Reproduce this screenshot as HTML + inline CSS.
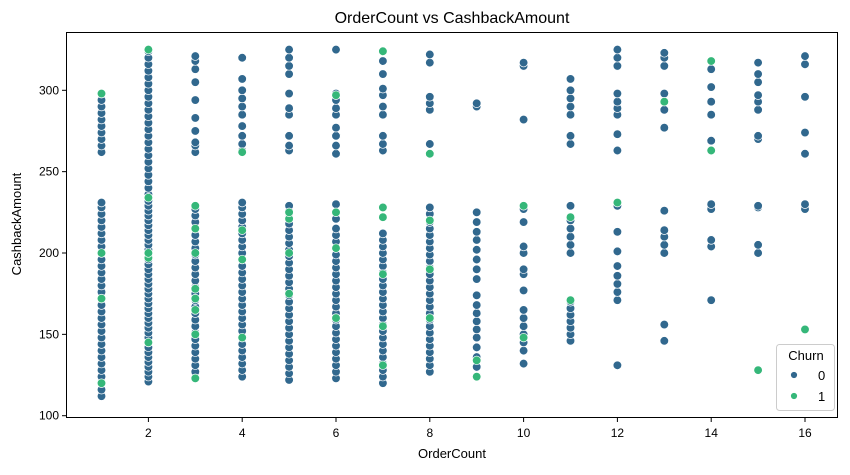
<!DOCTYPE html>
<html><head><meta charset="utf-8"><style>
body{margin:0;background:#fff;font-family:"Liberation Sans",sans-serif}
svg text{font-family:"Liberation Sans",sans-serif;fill:#000}
</style></head><body>
<svg id="chart" width="850" height="470">
<rect width="850" height="470" fill="#fff"/>
<text x="452" y="23" font-size="16" text-anchor="middle">OrderCount vs CashbackAmount</text>
<g id="pts"></g>
<rect x="66.5" y="32.5" width="771" height="385" fill="none" stroke="#000" stroke-width="1"/>
<g id="ax"></g>
<text x="452" y="458" font-size="13" text-anchor="middle">OrderCount</text>
<text x="21" y="224" font-size="13" text-anchor="middle" transform="rotate(-90 21 224)">CashbackAmount</text>
<g>
<rect x="776.5" y="344.5" width="58" height="66" rx="3" fill="#fff" fill-opacity="0.8" stroke="#ccc"/>
<text x="806" y="360" font-size="13" text-anchor="middle">Churn</text>
<circle cx="794" cy="375" r="3.5" fill="#31688e" stroke="#fff" stroke-width="0.8"/>
<text x="818" y="380" font-size="13">0</text>
<circle cx="794" cy="396" r="3.5" fill="#35b779" stroke="#fff" stroke-width="0.8"/>
<text x="818" y="401" font-size="13">1</text>
</g>
</svg>
<script>
const orderCounts=[1,2,3,4,5,6,7,8,9,10,11,12,13,14,15,16];
const xTicks=[2,4,6,8,10,12,14,16];
const yTicks=[100,150,200,250,300];
const cashbackChurn0=[
[112,116,120,124,128,132,136,140,144,148,152,156,160,164,168,172,176,180,184,188,192,196,200,204,208,212,216,220,224,228,231,262,266,270,274,278,282,286,290,294,298],
[121,124,127,130,133,136,139,142,145,148,151,154,157,160,163,166,169,172,175,178,181,184,187,190,193,196,199,202,205,208,211,214,217,220,223,226,229,232,236,240,244,248,252,256,260,264,268,272,276,280,284,288,292,296,300,304,308,312,316,320,324],
[123,127,131,135,139,143,147,151,155,159,163,167,171,175,179,183,187,191,195,199,203,207,211,215,219,223,227,262,266,268,275,283,294,305,313,318,321],
[124,128,132,136,140,144,148,152,156,160,164,168,172,176,180,184,188,192,196,200,204,208,212,216,220,224,228,231,263,267,272,278,285,290,295,300,307,320],
[122,126,130,134,138,142,146,150,154,158,162,166,170,174,178,182,186,190,194,198,202,206,210,214,218,222,226,229,263,266,272,285,289,298,310,315,320,325],
[123,127,131,135,139,143,147,151,155,159,163,167,171,175,179,183,187,191,195,199,203,207,211,215,221,225,230,261,266,272,277,285,289,294,298,325],
[120,124,128,132,136,140,144,148,152,156,160,164,168,172,176,180,184,188,192,196,200,204,208,212,263,267,272,285,290,297,301,310,318],
[127,131,135,139,143,147,151,155,159,163,167,171,175,179,183,187,191,195,199,203,207,211,215,219,224,228,261,267,288,292,296,317,322],
[124,130,136,142,148,153,158,163,168,174,184,190,196,202,208,213,219,225,290,292],
[132,140,145,150,155,160,165,177,187,190,200,204,219,227,282,315,317],
[146,150,154,158,162,166,170,200,205,210,215,220,229,267,272,285,290,295,300,307],
[131,171,176,181,186,192,201,213,229,263,273,285,289,293,298,315,320,325],
[146,156,200,205,210,214,226,277,288,298,315,320,323],
[171,204,208,227,230,269,285,293,302,313],
[200,205,228,229,270,272,288,293,297,305,310,317],
[227,230,261,274,296,316,321]];
const cashbackChurn1=[[120,172,200,298],[145,197,200,234,325],[123,150,165,172,178,200,215,229],[148,196,214,262],[175,200,221,225],[160,203,225,297],[131,155,187,222,228,324],[160,190,220,261],[124,134],[148,229],[171,222],[231],[293],[263,318],[128],[153]];
const xS=v=>101.5+(v-1)*46.9, yS=v=>415.7-(v-100)*1.627;
const NS='http://www.w3.org/2000/svg';
const pts=document.getElementById('pts'), ax=document.getElementById('ax');
function dot(x,y,c){const e=document.createElementNS(NS,'circle');
e.setAttribute('cx',xS(x));e.setAttribute('cy',yS(y));e.setAttribute('r',4.3);
e.setAttribute('fill',c);e.setAttribute('stroke','#fff');e.setAttribute('stroke-width','0.7');


pts.appendChild(e);}
orderCounts.forEach((o,i)=>cashbackChurn0[i].forEach(v=>dot(o,v,'#31688e')));
orderCounts.forEach((o,i)=>cashbackChurn1[i].forEach(v=>dot(o,v,'#35b779')));
function el(tag,attrs,txt){const e=document.createElementNS(NS,tag);for(const k in attrs)e.setAttribute(k,attrs[k]);if(txt!==undefined)e.textContent=txt;ax.appendChild(e);return e;}
xTicks.forEach(t=>{const x=xS(t);
const l=el('line',{x1:x,x2:x,y1:418,y2:422,stroke:'#000'});


const s=el('text',{x:x,y:437,'font-size':12,'text-anchor':'middle'},t);

});
yTicks.forEach(t=>{const y=yS(t);
const l=el('line',{x1:62,x2:66,y1:y,y2:y,stroke:'#000'});


const s=el('text',{x:59,y:y+4,'font-size':12,'text-anchor':'end'},t);

});
</script>
</body></html>
